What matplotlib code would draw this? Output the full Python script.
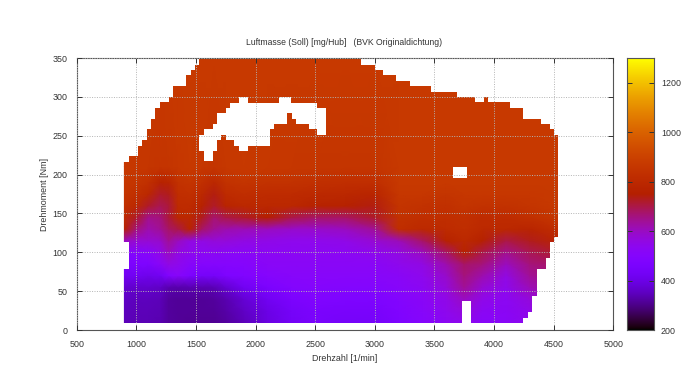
import numpy as np
import matplotlib
matplotlib.use("Agg")
import matplotlib.pyplot as plt

plt.rcParams['font.family'] = ['Liberation Sans', 'DejaVu Sans']

rpm_knots = [900,1000,1100,1200,1270,1350,1450,1550,1650,1750,1900,2100,2300,2500,2750,3000,3200,3400,3600,3750,3900,4100,4300,4539]
torque_knots = [9,25,40,55,70,85,100,115,130,145,160,175,190,210,348.3]
air_mass = [
 [345,340,340,335,320,315,310,310,310,320,345,390,430,450,440,440,470,500,530,540,510,520,540,600],
 [350,345,345,340,320,315,312,312,315,325,355,400,440,460,450,450,480,510,540,570,530,525,550,610],
 [355,350,350,345,320,315,315,315,320,335,375,420,460,480,470,470,490,520,550,600,550,530,570,620],
 [370,365,365,355,335,330,335,335,340,370,420,460,490,500,490,490,510,530,570,640,580,540,610,640],
 [420,420,410,420,480,510,470,440,440,470,480,500,510,510,510,510,520,540,590,660,620,560,640,660],
 [460,470,470,520,560,540,510,500,500,500,500,520,520,520,520,520,540,560,620,680,660,600,660,680],
 [490,500,510,550,600,560,540,530,530,520,520,530,530,530,530,540,560,600,680,770,700,650,690,720],
 [600,580,580,590,640,600,560,560,570,570,560,550,540,540,550,580,610,680,770,800,760,700,730,780],
 [770,660,620,640,680,700,780,680,640,620,610,600,590,590,600,640,820,800,810,820,800,790,780,820],
 [810,720,650,660,710,790,800,730,670,700,720,750,700,680,680,720,840,820,820,830,810,810,830,860],
 [830,800,720,690,710,810,810,770,720,780,800,790,790,770,760,740,850,840,830,850,840,840,850,870],
 [850,830,790,720,730,820,830,800,740,810,820,810,810,800,790,780,860,860,850,860,860,860,860,870],
 [860,850,830,770,780,840,850,830,790,840,850,840,840,830,820,820,870,870,870,870,870,870,870,870],
 [865,860,855,845,850,860,870,860,850,865,870,865,860,855,850,850,870,870,870,870,870,870,870,870],
 [865,865,865,865,868,870,870,870,870,870,870,870,870,870,870,870,870,870,870,870,870,870,870,870],
]

# upper limit of the measured map (rpm segment start, torque)
top_rpm = [880,939,1011,1050,1087,1123,1160,1199,1271,1308,1420,1456,1492,1528,2884,2999,3071,3178,3292,3471,3692,3840,3913,3949,4136,4245,4393,4469,4502,4538,4600]
top_torque = [216.6,223.5,237,244.5,258,272,285.7,293,300,313.6,327.7,334.6,341,348.3,341.4,334.6,327.7,320.4,313.6,306.7,299.8,293,299.8,293,285.7,272,265,258,251,-5,-5]
# lower limit at the high-rpm side
floor_rpm = [4245,4282,4321,4357,4432,4469,4502,4538]
floor_torque = [15.9,22.8,43.8,78.5,92.3,112.8,120,120]
# unmeasured island in the upper part of the map
hole_rpm = [1529,1568,1640,1677,1713,1749,1786,1822,1861,1934,2118,2155,2194,2266,2294,2303,2339,2448,2518,2591]
hole_top = [251,258,265,279,279,286,292.5,292.5,299.4,292.5,292.5,292.5,299.4,299.4,292.5,292.5,292.5,292.5,285.7,285.7]
hole_bottom = [230,217,230,244.5,251.4,244.5,244.5,237,230,237,258,265,265,279,279,272,265,258,251,251]
# rectangular gaps: rpm from, rpm to, torque from, torque to
gaps = [(880,939,78.5,113),(3731,3804,5,37),(3658,3770,195.6,209.3)]

x_ticks = [500,1000,1500,2000,2500,3000,3500,4000,4500,5000]
y_ticks = [0,50,100,150,200,250,300,350]
cb_ticks = [200,400,600,800,1000,1200]

W, H = 690, 388
TXT = '#333333'
fig = plt.figure(figsize=(W/100, H/100), dpi=100)
ax = fig.add_axes([76.7/W, 1-330/H, (613.3-76.7)/W, (330-58)/H])

ax.pcolormesh(rpm_knots, torque_knots, np.array(air_mass), shading='gouraud',
              cmap='gnuplot', vmin=200, vmax=1300, zorder=1)
ax.fill_between(top_rpm, top_torque, 352, step='post', color='white', lw=0, zorder=2)
ax.fill_between(floor_rpm, 5, floor_torque, step='post', color='white', lw=0, zorder=2)
ax.fill_between(hole_rpm, hole_bottom, hole_top, step='post', color='white', lw=0, zorder=2)
for x0, x1, y0, y1 in gaps:
    ax.fill_between([x0, x1], y0, y1, color='white', lw=0, zorder=2)
ax.fill_between([880, 4600], -5, 9, color='white', lw=0, zorder=2)

ax.set_xlim(500, 5000)
ax.set_ylim(0, 350)
ax.set_xticks(x_ticks)
ax.set_yticks(y_ticks)
ax.grid(True, color='#b4b4b4', lw=0.7, ls=(0, (1, 1.5)), zorder=3)
ax.set_axisbelow(False)
ax.tick_params(direction='in', length=3.5, width=0.7, color='#333333', top=True, right=True,
               labelsize=6.4, labelcolor=TXT)
ax.tick_params(axis='x', pad=7)
ax.tick_params(axis='y', pad=6.5)
for s in ax.spines.values():
    s.set_color('#555555'); s.set_linewidth(0.8); s.set_linestyle((0, (1, 1)))
ax.set_xlabel('Drehzahl [1/min]', fontsize=6.4, color=TXT, labelpad=3.5)
ax.set_ylabel('Drehmoment [Nm]', fontsize=6.4, color=TXT, labelpad=2.5)
fig.text(344/W, 1-42.5/H, 'Luftmasse (Soll) [mg/Hub]   (BVK Originaldichtung)', ha='center', va='center',
         fontsize=6.2, color=TXT)

cax = fig.add_axes([627.3/W, 1-330/H, (654-627.3)/W, (330-58)/H])
levels = np.linspace(200, 1300, 256).reshape(-1, 1)
cax.imshow(levels, origin='lower', aspect='auto', cmap='gnuplot', vmin=200, vmax=1300,
           extent=[0, 1, 200, 1300])
cax.set_xticks([])
cax.set_yticks(cb_ticks)
cax.yaxis.tick_right()
cax.tick_params(axis='y', direction='in', length=3.5, width=0.7, color='#333333', left=True, right=True,
                labelsize=6.4, labelcolor=TXT, pad=5)
for s in cax.spines.values():
    s.set_color('#555555'); s.set_linewidth(0.8)

fig.savefig('out.png', dpi=100)
